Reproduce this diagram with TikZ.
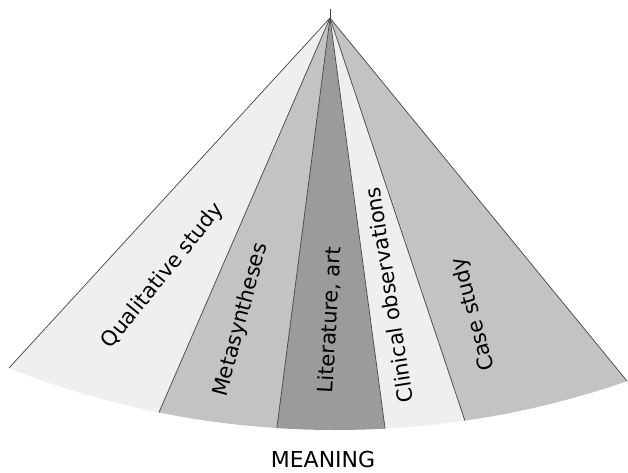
\documentclass[tikz,border=0pt]{standalone}
\usepackage{fontspec}
\setmainfont{DejaVu Sans}
\usetikzlibrary{calc}
\definecolor{lightsec}{HTML}{EFEFEF}
\definecolor{midsec}{HTML}{C3C3C3}
\definecolor{darksec}{HTML}{9B9B9B}
\definecolor{edgecol}{HTML}{444444}
\begin{document}
\begin{tikzpicture}[x=1pt,y=-1pt,line join=round,
  edge/.style={draw=edgecol,line width=0.7pt},
  lbl/.style={font=\fontsize{21}{25}\selectfont,inner sep=0pt},
  bottomlbl/.style={font=\fontsize{22}{26}\selectfont,inner sep=0pt}]
\useasboundingbox (0,0) rectangle (628,473);
\coordinate (apex) at (330,18);
\coordinate (e0) at ($(apex)!1.15!(9,368)$);
\coordinate (e1) at ($(apex)!1.15!(160,410)$);
\coordinate (e2) at ($(apex)!1.15!(277,427)$);
\coordinate (e3) at ($(apex)!1.15!(385,428)$);
\coordinate (e4) at ($(apex)!1.15!(465,421)$);
\coordinate (e5) at ($(apex)!1.15!(627,381)$);
\begin{scope}
  \clip (335.6,-461) circle [radius=891];
  \fill[lightsec] (apex) -- (e0) -- (e1) -- cycle;
  \fill[midsec] (apex) -- (e1) -- (e2) -- cycle;
  \fill[darksec] (apex) -- (e2) -- (e3) -- cycle;
  \fill[lightsec] (apex) -- (e3) -- (e4) -- cycle;
  \fill[midsec] (apex) -- (e4) -- (e5) -- cycle;
  \foreach \e in {e0,e1,e2,e3,e4,e5} \draw[edge] (apex) -- (\e);
\end{scope}
\draw[edge] (apex) -- ++(0,-9);
\node[lbl,rotate=51] (qual) at (163,276) {Qualitative study};
\node[lbl,rotate=75] (meta) at (241,320) {Metasyntheses};
\node[lbl,rotate=87] (lit) at (330,320) {Literature, art};
\node[lbl,rotate=99] (clin) at (389,295) {Clinical observations};
\node[lbl,rotate=105] (case) at (474,314) {Case study};
\node[bottomlbl,anchor=base] (meaning) at (323,467) {MEANING};
\end{tikzpicture}
\end{document}
